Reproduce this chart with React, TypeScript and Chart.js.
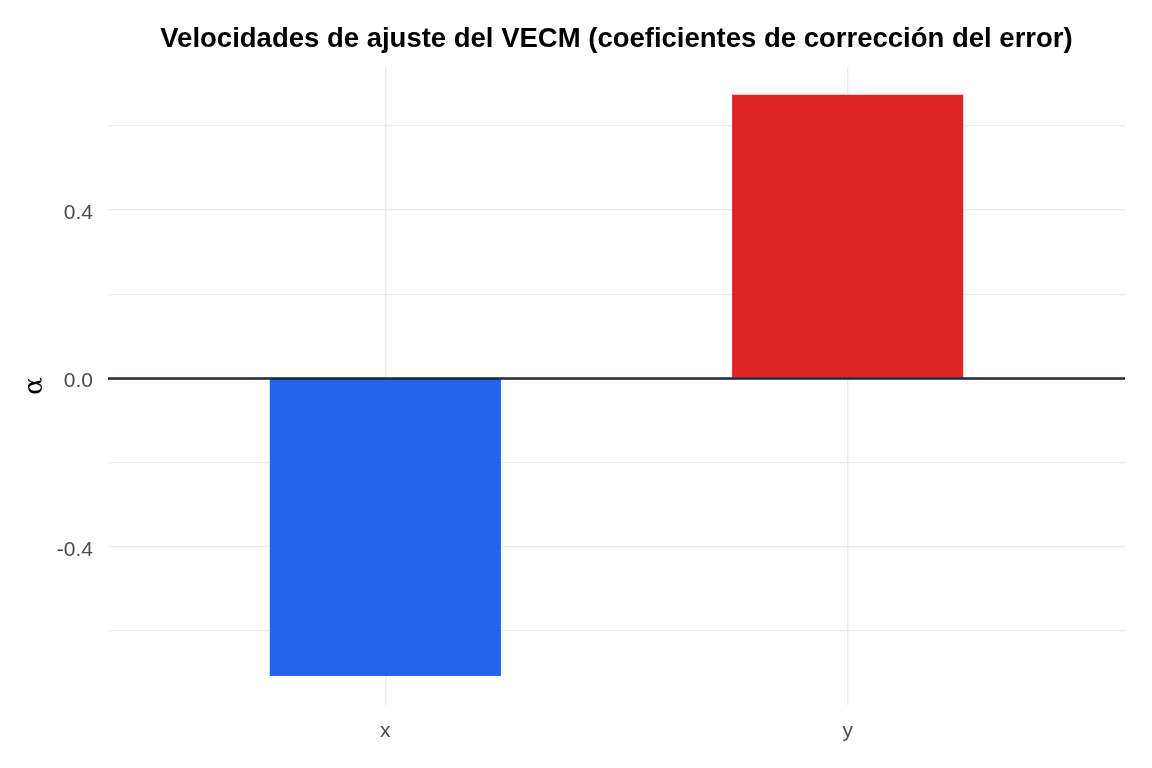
import React, { useEffect, useRef } from 'react';
import { Chart, registerables } from 'chart.js';

Chart.register(...registerables);

const categories = ['x', 'y'];
const alphaValues = [-0.707, 0.674];
const barColors = ['#2563EB', '#DC2626'];
const yTicks = [-0.6, -0.4, -0.2, 0, 0.2, 0.4, 0.6];
const yLabelTicks = [-0.4, 0, 0.4];

const TITLE = 'Velocidades de ajuste del VECM (coeficientes de corrección del error)';

// dark horizontal line at zero, drawn on top of the bars
const zeroLine = {
  id: 'zeroLine',
  afterDatasetsDraw(chart: Chart) {
    const { ctx, chartArea, scales } = chart;
    const y = scales.y.getPixelForValue(0);
    ctx.save();
    ctx.strokeStyle = '#1E293B';
    ctx.lineWidth = 2.5;
    ctx.beginPath();
    ctx.moveTo(chartArea.left, y);
    ctx.lineTo(chartArea.right, y);
    ctx.stroke();
    ctx.restore();
  },
};

const App: React.FC = () => {
  const chartRef = useRef<HTMLCanvasElement>(null);
  const chartInstance = useRef<Chart | null>(null);

  useEffect(() => {
    document.body.style.margin = '0';
    if (!chartRef.current) return;
    if (chartInstance.current) chartInstance.current.destroy();

    const isMajor = (v: number) => yLabelTicks.some((t) => Math.abs(t - v) < 1e-6);

    chartInstance.current = new Chart(chartRef.current, {
      type: 'bar',
      data: {
        datasets: [
          {
            data: alphaValues.map((v, i) => ({ x: i + 1, y: v })),
            backgroundColor: barColors,
            borderWidth: 0,
            categoryPercentage: 0.5,
            barPercentage: 1,
          },
        ],
      },
      options: {
        responsive: false,
        animation: false,
        layout: { padding: { left: 12, right: 27, top: 23, bottom: 26 } },
        plugins: {
          legend: { display: false },
          tooltip: { enabled: false },
          title: {
            display: true,
            text: TITLE,
            fullSize: false,
            color: '#000000',
            font: { family: 'Liberation Sans, Arial, sans-serif', size: 27.5, weight: 'bold' },
            padding: { top: 0, bottom: 11 },
          },
        },
        scales: {
          x: {
            type: 'linear',
            min: 0.4,
            max: 2.6,
            offset: false,
            afterBuildTicks: (axis) => {
              axis.ticks = categories.map((_, i) => ({ value: i + 1 }));
            },
            afterFit: (axis) => {
              axis.height = 37;
            },
            ticks: {
              callback: (v) => categories[Number(v) - 1] ?? '',
              color: '#4D4D4D',
              font: { family: 'Liberation Sans, Arial, sans-serif', size: 21 },
              padding: 14,
            },
            grid: { color: '#EBEBEB', lineWidth: 1.3, drawTicks: false, offset: false },
            border: { display: false },
          },
          y: {
            type: 'linear',
            min: -0.776,
            max: 0.74,
            afterBuildTicks: (axis) => {
              axis.ticks = yTicks.map((v) => ({ value: v }));
            },
            afterFit: (axis) => {
              axis.width = 96;
            },
            ticks: {
              callback: (v) => (isMajor(Number(v)) ? Number(v).toFixed(1) : ''),
              color: '#4D4D4D',
              font: { family: 'Liberation Sans, Arial, sans-serif', size: 21 },
              padding: 15,
              labelOffset: 3,
            },
            grid: { color: '#EBEBEB', lineWidth: 1.3, drawTicks: false },
            border: { display: false },
            title: {
              display: true,
              text: 'α',
              color: '#000000',
              font: { family: 'DejaVu Serif, Liberation Serif, serif', size: 26 },
              padding: { top: 8, bottom: 6 },
            },
          },
        },
      },
      plugins: [zeroLine],
    });

    return () => {
      if (chartInstance.current) {
        chartInstance.current.destroy();
        chartInstance.current = null;
      }
    };
  }, []);

  return (
    <div style={{ width: 1152, height: 768, background: '#ffffff' }}>
      <canvas ref={chartRef} width={1152} height={768}></canvas>
    </div>
  );
};

export default App;
